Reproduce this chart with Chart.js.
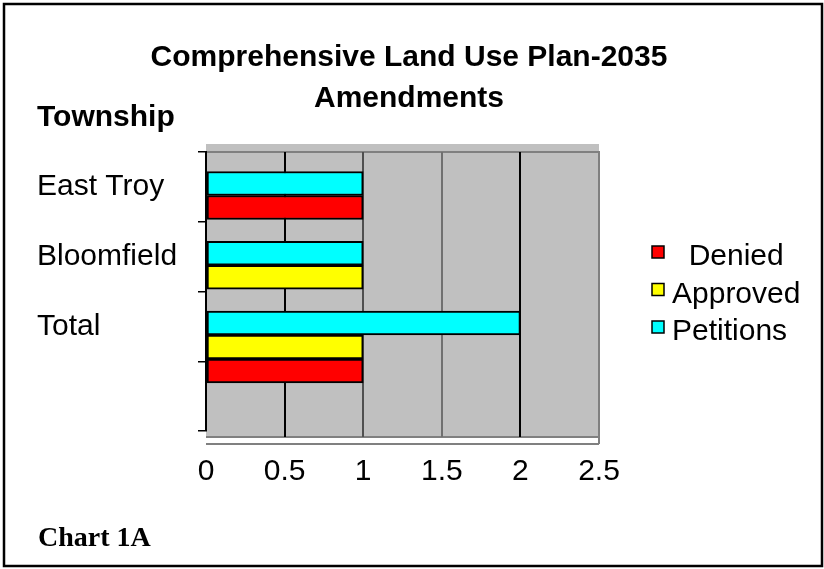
<!DOCTYPE html>
<html>
<head>
<meta charset="utf-8">
<title>Comprehensive Land Use Plan-2035 Amendments</title>
<script src="https://cdn.jsdelivr.net/npm/chart.js@4.4.1/dist/chart.umd.min.js"></script>
<style>
  html, body { margin: 0; padding: 0; background: #fff; }
  #wrap { position: relative; width: 824px; height: 569px; }
</style>
</head>
<body>
<div id="wrap"><canvas id="amendChart" width="824" height="569"></canvas></div>
<script>
// amendments per township
const categories = ['East Troy', 'Bloomfield', 'Total'];
const petitions = [1, 1, 2];
const approved = [null, 1, 1];
const denied = [1, null, 1];
const valueTicks = [0, 0.5, 1, 1.5, 2, 2.5];

const seriesNames = ['Petitions', 'Approved', '  Denied'];
const seriesValues = [petitions, approved, denied];
const seriesColors = ['#00FFFF', '#FFFF00', '#FF0000'];

const chartTitle = ['Comprehensive Land Use Plan-2035', 'Amendments'];
const axisTitle = 'Township';
const caption = 'Chart 1A';

const SANS = '"Liberation Sans", Arial, sans-serif';
const SERIF = '"Liberation Serif", "Times New Roman", serif';

// bars in a township sit one under the other, skipping empty series
const GROUP_TOP = 0.28;   // gap above the first bar, in band units
const SLOT = 0.344;       // one bar, in band units
const BAR_PX = 24;

function barRows(s) {
  const out = [];
  categories.forEach((cat, i) => {
    const v = seriesValues[s][i];
    if (v === null) return;
    let slot = 0;
    for (let k = 0; k < s; k++) if (seriesValues[k][i] !== null) slot++;
    out.push({ x: v, y: i - 0.5 + GROUP_TOP + (slot + 0.5) * SLOT });
  });
  return out;
}

const datasets = seriesNames.map((name, s) => ({
  label: name,
  data: barRows(s),
  yAxisID: 'rows',
  backgroundColor: seriesColors[s],
  borderColor: '#000',
  borderWidth: 2,
  borderSkipped: false,
  barThickness: BAR_PX,
  grouped: false
}));

const gridShade = { '0.5': '#000', '1': '#505050', '1.5': '#707070', '2': '#000' };

// grey plot wall with its darker edges and the white floor strip
const plotWall = {
  id: 'plotWall',
  beforeDraw(chart) {
    const { ctx, chartArea: a } = chart;
    ctx.save();
    ctx.fillStyle = '#C0C0C0';
    ctx.fillRect(a.left, a.top - 8, a.right - a.left, a.bottom - a.top + 14);
    ctx.strokeStyle = '#808080';
    ctx.lineWidth = 2;
    ctx.beginPath();
    ctx.moveTo(a.left, a.top);
    ctx.lineTo(a.right, a.top);
    ctx.lineTo(a.right, a.bottom + 13);
    ctx.moveTo(a.left, a.bottom + 6);
    ctx.lineTo(a.right, a.bottom + 6);
    ctx.moveTo(a.left, a.bottom + 13);
    ctx.lineTo(a.right, a.bottom + 13);
    ctx.stroke();
    ctx.restore();
  }
};

// titles, legend and outer frame
const decorations = {
  id: 'decorations',
  afterDraw(chart) {
    const ctx = chart.ctx;
    ctx.save();
    ctx.fillStyle = '#000';
    ctx.textBaseline = 'alphabetic';

    ctx.font = 'bold 30px ' + SANS;
    ctx.textAlign = 'center';
    ctx.fillText(chartTitle[0], 409, 66);
    ctx.fillText(chartTitle[1], 409, 107);

    ctx.textAlign = 'left';
    ctx.fillText(axisTitle, 37, 126);

    ctx.font = 'bold 28px ' + SERIF;
    ctx.fillText(caption, 38, 546);

    // legend, last series first
    ctx.font = '30px ' + SANS;
    const ds = chart.data.datasets.slice().reverse();
    ds.forEach((d, k) => {
      const base = 265 + k * 37.5;
      ctx.fillStyle = d.backgroundColor;
      ctx.fillRect(652, base - 19, 12, 12);
      ctx.strokeStyle = '#000';
      ctx.lineWidth = 1.5;
      ctx.strokeRect(652, base - 19, 12, 12);
      ctx.fillStyle = '#000';
      ctx.fillText(d.label, 672, base);
    });

    ctx.strokeStyle = '#000';
    ctx.lineWidth = 2.5;
    ctx.strokeRect(4, 4, 818, 562);
    ctx.restore();
  }
};

new Chart(document.getElementById('amendChart'), {
  type: 'bar',
  data: { datasets },
  plugins: [plotWall, decorations],
  options: {
    indexAxis: 'y',
    responsive: false,
    animation: false,
    layout: { padding: { top: 152, left: 37, right: 225, bottom: 78 } },
    plugins: {
      legend: { display: false },
      title: { display: false },
      tooltip: { enabled: false }
    },
    scales: {
      x: {
        type: 'linear',
        min: valueTicks[0],
        max: valueTicks[valueTicks.length - 1],
        ticks: {
          stepSize: valueTicks[1] - valueTicks[0],
          callback: v => String(v),
          color: '#000',
          padding: 17,
          font: { family: SANS, size: 30 }
        },
        grid: {
          color: c => gridShade[String(c.tick.value)] || 'rgba(0,0,0,0)',
          lineWidth: 2,
          drawTicks: true,
          tickLength: 6
        },
        border: { display: false },
        afterFit: s => { s.height = 60; }
      },
      y: {
        type: 'category',
        labels: [...categories, ''],
        position: 'left',
        offset: true,
        grid: {
          offset: true,
          drawOnChartArea: false,
          drawTicks: true,
          tickLength: 8,
          color: '#000',
          lineWidth: 1.5
        },
        border: { display: true, color: '#000', width: 2 },
        ticks: {
          crossAlign: 'far',
          padding: 0,
          color: '#000',
          font: { family: SANS, size: 30 }
        },
        afterFit: s => { s.width = 169; }
      },
      rows: {
        type: 'linear',
        axis: 'y',
        position: 'left',
        display: false,
        offset: false,
        reverse: true,
        min: -0.5,
        max: categories.length + 0.5
      }
    }
  }
});
</script>
</body>
</html>
